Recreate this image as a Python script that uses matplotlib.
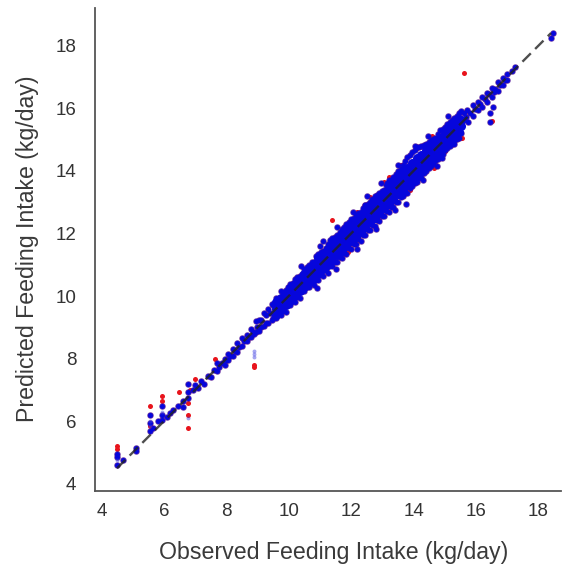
import matplotlib
matplotlib.use("Agg")
import matplotlib.pyplot as plt

plt.rcParams['font.family'] = ['Liberation Sans', 'DejaVu Sans']

# Wider band, five predicted levels per observed value
band_obs = [9.6, 9.75, 9.9, 10.05, 10.2, 10.35, 10.5, 10.65, 10.8, 10.95, 11.1, 11.25, 11.4, 11.55, 11.7, 11.85, 12.0,
            12.15, 12.3, 12.45, 12.6, 12.75, 12.9, 13.05, 13.2, 13.35, 13.5, 13.65, 13.8, 13.95, 14.1, 14.25, 14.4,
            14.55, 14.7, 14.85, 15.0, 15.15, 15.3, 15.45]
band_p1 = [9.95, 10.15, 10.2, 10.4, 10.55, 10.65, 10.85, 11.0, 11.1, 11.35, 11.45, 11.65, 11.85, 11.95, 12.15, 12.3, 12.45,
           12.6, 12.7, 12.9, 13.0, 13.2, 13.3, 13.4, 13.7, 13.8, 14.0, 14.2, 14.45, 14.6, 14.75, 14.8, 14.85,
           15.0, 15.05, 15.3, 15.4, 15.55, 15.7, 15.85]
band_p2 = [9.8, 9.95, 10.1, 10.25, 10.4, 10.55, 10.7, 10.85, 11.0, 11.2, 11.3, 11.5, 11.65, 11.8, 11.95, 12.1, 12.25,
           12.4, 12.55, 12.7, 12.85, 13.0, 13.15, 13.3, 13.45, 13.6, 13.8, 13.95, 14.1, 14.25, 14.4, 14.5, 14.65,
           14.8, 14.9, 15.05, 15.2, 15.35, 15.5, 15.65]
band_p3 = [9.6, 9.75, 9.9, 10.05, 10.2, 10.35, 10.5, 10.65, 10.8, 10.95, 11.1, 11.25, 11.4, 11.55, 11.7, 11.85, 12.0,
           12.15, 12.3, 12.45, 12.6, 12.75, 12.9, 13.05, 13.2, 13.35, 13.5, 13.65, 13.8, 13.95, 14.1, 14.25, 14.4,
           14.55, 14.7, 14.85, 15.0, 15.15, 15.3, 15.45]
band_p4 = [9.4, 9.55, 9.7, 9.85, 10.0, 10.15, 10.3, 10.45, 10.55, 10.7, 10.85, 11.0, 11.15, 11.3, 11.45, 11.6, 11.75,
           11.9, 12.05, 12.2, 12.35, 12.5, 12.65, 12.8, 12.95, 13.1, 13.25, 13.4, 13.55, 13.7, 13.85, 14.0, 14.2,
           14.35, 14.5, 14.65, 14.8, 14.95, 15.1, 15.25]
band_p5 = [9.3, 9.4, 9.5, 9.7, 9.8, 9.95, 10.15, 10.3, 10.35, 10.5, 10.65, 10.75, 10.95, 11.1, 11.2, 11.35, 11.5,
           11.65, 11.75, 11.95, 12.1, 12.25, 12.4, 12.55, 12.7, 12.85, 13.0, 13.2, 13.3, 13.5, 13.65, 13.8, 14.0,
           14.15, 14.3, 14.45, 14.65, 14.8, 14.95, 15.05]

# Staggered observations between the columns above
mid_obs = [9.68, 9.83, 9.98, 10.13, 10.28, 10.43, 10.58, 10.73, 10.88, 11.03, 11.18, 11.33, 11.48, 11.63, 11.78, 11.93,
           12.08, 12.23, 12.38, 12.53, 12.68, 12.83, 12.98, 13.13, 13.28, 13.43, 13.58, 13.73, 13.88, 14.03, 14.18,
           14.33, 14.48, 14.63, 14.78, 14.93, 15.08, 15.23, 15.38, 15.53]
mid_q1 = [9.93, 10.1, 10.3, 10.42, 10.6, 10.72, 10.92, 11.1, 11.28, 11.42, 11.55, 11.78, 11.9, 12.05, 12.2, 12.38,
          12.5, 12.65, 12.82, 12.95, 13.1, 13.22, 13.35, 13.55, 13.72, 13.9, 14.05, 14.32, 14.5, 14.65, 14.75,
          14.82, 14.92, 15.02, 15.18, 15.32, 15.48, 15.62, 15.75, 15.9]
mid_q2 = [9.78, 9.95, 10.1, 10.22, 10.38, 10.52, 10.68, 10.85, 11.0, 11.15, 11.28, 11.45, 11.6, 11.75, 11.9, 12.05,
          12.2, 12.35, 12.5, 12.65, 12.8, 12.95, 13.1, 13.25, 13.42, 13.55, 13.72, 13.9, 14.05, 14.2, 14.32,
          14.48, 14.62, 14.78, 14.92, 15.05, 15.2, 15.35, 15.5, 15.62]
mid_q3 = [9.6, 9.75, 9.9, 10.05, 10.2, 10.35, 10.48, 10.65, 10.78, 10.92, 11.08, 11.22, 11.38, 11.52, 11.68, 11.82,
          11.98, 12.12, 12.28, 12.42, 12.58, 12.72, 12.88, 13.02, 13.18, 13.32, 13.48, 13.62, 13.78, 13.92, 14.08,
          14.22, 14.38, 14.52, 14.68, 14.82, 14.98, 15.12, 15.28, 15.42]
mid_q4 = [9.45, 9.55, 9.7, 9.88, 10.0, 10.15, 10.3, 10.42, 10.55, 10.7, 10.82, 10.98, 11.08, 11.25, 11.38, 11.52,
          11.65, 11.82, 11.95, 12.12, 12.28, 12.42, 12.55, 12.72, 12.85, 13.02, 13.15, 13.3, 13.45, 13.6, 13.78,
          13.92, 14.08, 14.22, 14.38, 14.55, 14.72, 14.85, 15.02, 15.2]

# Narrower tails and scattered points
tail_obs = [4.5, 4.5, 4.5, 4.7, 5.1, 5.1, 5.55, 5.55, 5.55, 5.65, 5.8, 5.95, 5.95, 5.95, 6.1, 6.2, 6.3, 6.45, 6.6, 6.6,
            6.78, 6.78, 6.78, 6.95, 7.0, 7.1, 7.2, 7.3, 7.4, 7.5, 7.6, 7.7, 7.7, 7.85, 7.95, 7.95, 8.05, 8.05, 8.2, 8.2,
            8.35, 8.35, 8.5, 8.5, 8.65, 8.65, 8.8, 8.8, 8.9, 8.95, 8.95, 9.05, 9.05, 9.2, 9.2, 9.35, 9.35, 9.45, 9.45,
            9.55, 15.6, 15.7, 15.75, 15.9, 15.9, 16.05, 16.05, 16.2, 16.2, 16.35, 16.35, 16.5, 16.5, 16.6, 16.7, 16.7,
            16.85, 16.85, 17.0, 17.0, 17.15, 17.25, 18.4, 18.45, 11.1, 12.45, 13.15, 14.9, 15.15, 16.45, 16.45, 16.55]
tail_pred = [4.95, 4.85, 4.6, 4.75, 5.05, 5.15, 6.2, 5.95, 5.7, 5.8, 6.0, 6.5, 6.2, 6.05, 6.15, 6.25, 6.35, 6.5, 6.65, 6.45,
             7.2, 6.95, 6.75, 7.0, 7.15, 7.05, 7.3, 7.2, 7.45, 7.4, 7.65, 7.85, 7.6, 7.85, 8.0, 7.8, 8.15, 7.95, 8.3, 8.1,
             8.5, 8.2, 8.65, 8.4, 8.75, 8.55, 8.95, 8.7, 8.8, 9.2, 8.85, 9.25, 8.9, 9.45, 9.05, 9.6, 9.15, 9.75, 9.25,
             9.65, 15.85, 15.95, 15.55, 16.1, 15.75, 16.2, 15.95, 16.35, 16.05, 16.5, 16.2, 16.65, 16.35, 16.6, 16.85, 16.55,
             16.95, 16.75, 17.1, 16.9, 17.2, 17.3, 18.25, 18.4, 11.75, 12.9, 13.6, 14.4, 15.35, 15.85, 15.55, 16.05]
fill_obs = [7.78, 8.0, 8.12, 8.28, 8.42, 8.58, 8.72, 8.85, 9.0, 9.12, 9.12, 9.28, 9.28, 9.4, 9.5, 9.5, 15.62, 15.68, 15.82, 15.98,
            16.12, 16.28, 16.42, 16.58, 16.78, 16.92]
fill_pred = [7.72, 7.95, 8.08, 8.25, 8.38, 8.58, 8.7, 8.85, 9.0, 9.22, 9.02, 9.4, 9.15, 9.45, 9.72, 9.3, 15.62, 15.72, 15.85, 15.98,
             16.12, 16.3, 16.45, 16.52, 16.75, 16.9]
# Bumps sticking out of the band edge
edge_obs = [10.4, 11.0, 11.55, 12.05, 12.5, 12.95, 13.5, 14.05, 14.45, 15.1, 10.9, 11.5, 12.2, 12.8, 13.4, 13.75, 14.3, 14.75, 15.3]
edge_pred = [10.95, 11.6, 12.2, 12.7, 13.2, 13.6, 14.2, 14.78, 15.12, 15.75, 10.25, 10.85, 11.5, 12.15, 12.75, 12.95, 13.72, 14.15, 14.85]
pale_obs = [4.5, 5.55, 5.55, 5.95, 6.78, 8.9, 8.9, 8.9]
pale_pred = [4.75, 6.0, 5.85, 6.3, 6.1, 8.25, 8.15, 8.05]
red_obs = [4.5, 4.5, 5.55, 5.55, 5.55, 5.95, 5.95, 6.5, 6.78, 6.78, 6.78, 6.85, 7.0, 7.65, 8.9, 8.9, 11.4, 12.2,
           12.6, 13.2, 13.6, 14.1, 14.6, 15.0, 15.6, 16.5, 11.9, 12.9, 13.9, 13.05, 15.55, 14.65]
red_pred = [5.2, 5.1, 6.5, 6.2, 5.85, 6.8, 6.65, 6.95, 6.6, 6.2, 5.8, 7.0, 7.35, 8.0, 7.8, 7.72, 12.42, 12.7,
            13.15, 13.8, 14.2, 14.72, 15.12, 14.62, 17.12, 15.58, 11.4, 12.42, 13.4, 13.65, 15.05, 14.1]
line_ends = [4.5, 18.4]
x_ticks = [4, 6, 8, 10, 12, 14, 16, 18]
y_ticks = [4, 6, 8, 10, 12, 14, 16, 18]

fig = plt.figure(figsize=(5.63, 5.65), dpi=100)
ax = fig.add_axes([94.5 / 563, 1 - 490.5 / 565, (561 - 94.5) / 563, (490.5 - 8) / 565])

ax.scatter(red_obs, red_pred, s=13, color="#e8141c", linewidths=0, zorder=2)
# Interior of the band: overlapping points merge into a solid mass
inner_obs = band_obs * 3 + mid_obs * 2
inner_pred = band_p2 + band_p3 + band_p4 + mid_q2 + mid_q3
outer_obs = band_obs * 2 + mid_obs * 2 + tail_obs + fill_obs + edge_obs
outer_pred = band_p1 + band_p5 + mid_q1 + mid_q4 + tail_pred + fill_pred + edge_pred
# Purple fringe from red points sitting just under the blue ones
ax.scatter(outer_obs, outer_pred, s=22, color="#4a0f96", alpha=0.8, linewidths=0, zorder=3)
ax.scatter(outer_obs, outer_pred, s=13, color="#0606dc", linewidths=0, zorder=4)
ax.scatter(inner_obs, inner_pred, s=42, color="#0606dc", linewidths=0, zorder=4)
ax.scatter(pale_obs, pale_pred, s=8, color="#3a3ae0", alpha=0.45, linewidths=0, zorder=4)
ax.plot(line_ends, line_ends, color="#222222", lw=1.7, ls=(0, (5, 2.6)), alpha=0.8, zorder=5)

ax.set_xlim(3.78, 18.72)
ax.set_ylim(3.79, 19.2)
ax.set_xticks(x_ticks)
ax.set_yticks(y_ticks)
ax.tick_params(axis="both", length=0, labelsize=13.5, labelcolor="#333333")
ax.tick_params(axis="x", pad=9)
ax.tick_params(axis="y", pad=13)
ax.set_xlabel("Observed Feeding Intake (kg/day)", fontsize=16.7, color="#3a3a3a")
ax.set_ylabel("Predicted Feeding Intake (kg/day)", fontsize=16.7, color="#3a3a3a")
ax.xaxis.set_label_coords((334 - 94.5) / (561 - 94.5), -(553 - 490.5) / (490.5 - 8), transform=ax.transAxes)
ax.xaxis.label.set_verticalalignment("center")
ax.yaxis.set_label_coords(-(94.5 - 28) / (561 - 94.5), (490.5 - 249) / (490.5 - 8), transform=ax.transAxes)
ax.yaxis.label.set_verticalalignment("center")
for side in ("top", "right"):
    ax.spines[side].set_visible(False)
for side in ("left", "bottom"):
    ax.spines[side].set_color("#555555")
    ax.spines[side].set_linewidth(1.3)

fig.savefig("out.png", dpi=100, facecolor="white")
